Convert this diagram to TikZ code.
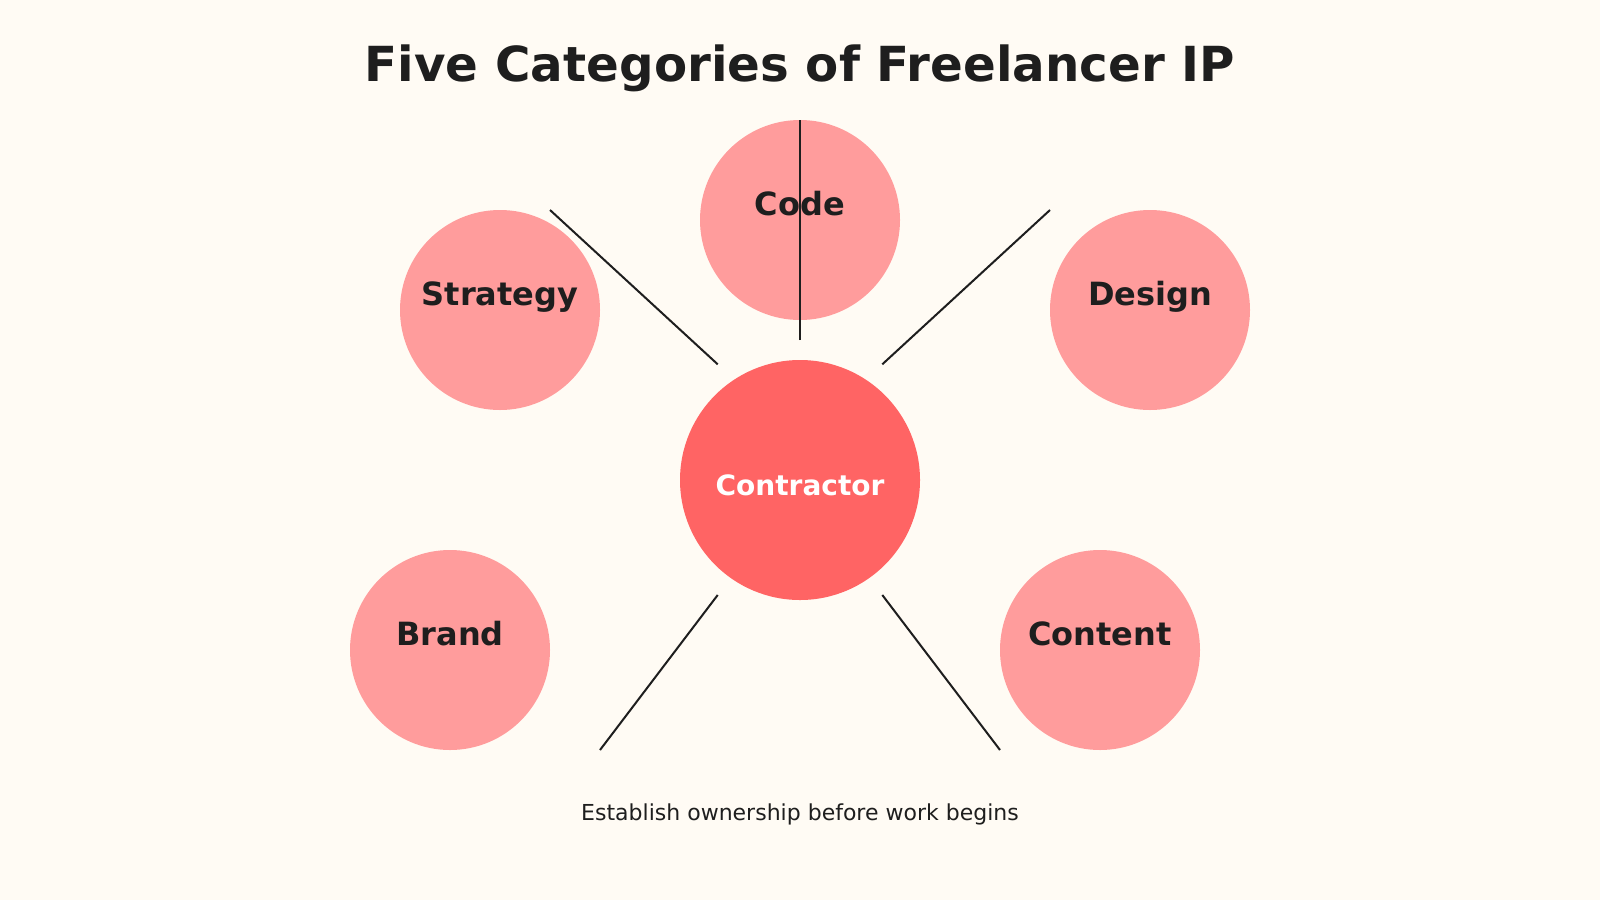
\documentclass[tikz,border=0pt]{standalone}
\usepackage{fontspec}
\setmainfont{DejaVu Sans}
\definecolor{bgc}{HTML}{FFFBF4}
\definecolor{satc}{HTML}{FF9C9C}
\definecolor{hubc}{HTML}{FF6464}
\definecolor{inkc}{HTML}{1E1E1E}
\begin{document}
\begin{tikzpicture}[x=1pt,y=-1pt,
  sat/.style={circle,fill=satc,minimum size=200pt,inner sep=0pt},
  hub/.style={circle,fill=hubc,minimum size=240pt,inner sep=0pt},
  lab/.style={anchor=base,text=inkc,font=\fontsize{32}{38}\selectfont\bfseries},
  spoke/.style={draw=inkc,line width=2pt}]
\fill[bgc] (0,0) rectangle (1600,900);
\useasboundingbox (0,0) rectangle (1600,900);
\node[anchor=base,text=inkc,font=\fontsize{48.3}{56}\selectfont\bfseries] (title) at (800,81) {Five Categories of Freelancer IP};
\node[sat] (code) at (800,220) {};
\node[sat] (strategy) at (500,310) {};
\node[sat] (design) at (1150,310) {};
\node[sat] (brand) at (450,650) {};
\node[sat] (content) at (1100,650) {};
\node[hub] (hub) at (800,480) {};
\node[lab] (codel) at (800,215) {Code};
\node[lab] (strategyl) at (500,305) {Strategy};
\node[lab] (designl) at (1150,305) {Design};
\node[lab] (brandl) at (450,645) {Brand};
\node[lab] (contentl) at (1100,645) {Content};
\node[anchor=base,text=white,font=\fontsize{28}{34}\selectfont\bfseries] (hubl) at (800,495) {Contractor};
\coordinate (c1a) at (800,340); \coordinate (c1b) at (800,120);
\coordinate (c2a) at (717.7,364.3); \coordinate (c2b) at (550,210);
\coordinate (c3a) at (882.3,364.3); \coordinate (c3b) at (1050,210);
\coordinate (c4a) at (717.7,595); \coordinate (c4b) at (600,750);
\coordinate (c5a) at (882.3,595); \coordinate (c5b) at (1000,750);
\draw[spoke] (c1a) -- (c1b);
\draw[spoke] (c2a) -- (c2b);
\draw[spoke] (c3a) -- (c3b);
\draw[spoke] (c4a) -- (c4b);
\draw[spoke] (c5a) -- (c5b);
\node[anchor=base,text=inkc,font=\fontsize{22}{26}\selectfont] (foot) at (800,820) {Establish ownership before work begins};
\end{tikzpicture}
\end{document}
